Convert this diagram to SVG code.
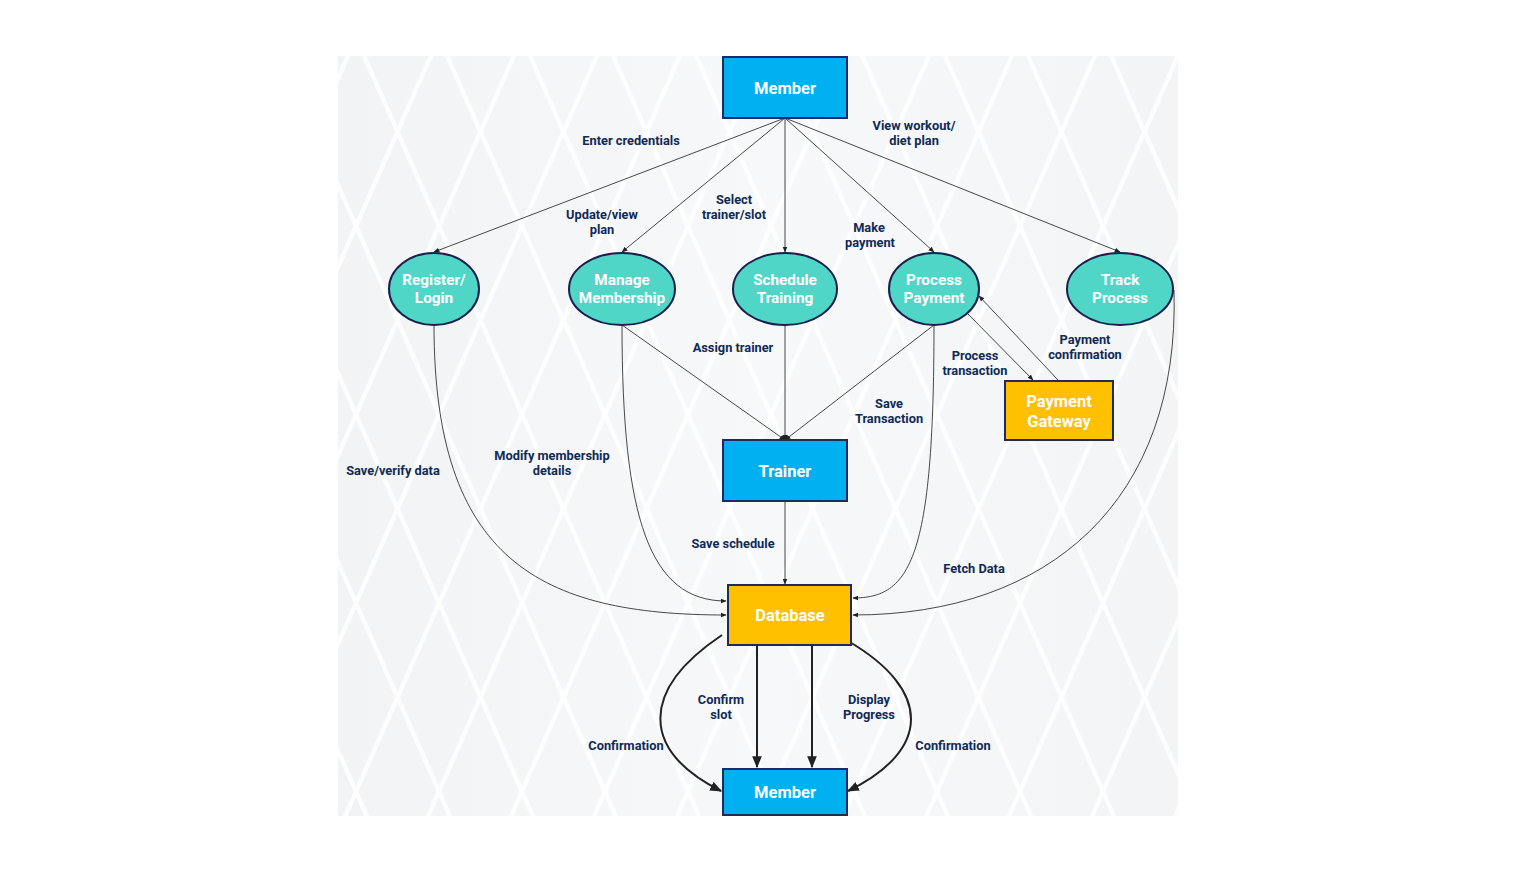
<svg xmlns="http://www.w3.org/2000/svg" width="1516" height="872" viewBox="0 0 1516 872">
<defs>
<pattern id="lat" x="356" y="226" width="83" height="188.5" patternUnits="userSpaceOnUse">
<path d="M0,0 L41.5,94.25 L0,188.5 M83,0 L41.5,94.25 L83,188.5" fill="none" stroke="#ffffff" stroke-width="4.5" opacity="0.85"/>
</pattern>
<linearGradient id="bg" x1="0" y1="0" x2="1" y2="0">
<stop offset="0" stop-color="#f2f3f5"/>
<stop offset="0.5" stop-color="#f7f8f9"/>
<stop offset="1" stop-color="#f3f4f6"/>
</linearGradient>
<marker id="a" viewBox="0 0 10 10" refX="9" refY="5" markerWidth="6" markerHeight="6" markerUnits="userSpaceOnUse" orient="auto">
<path d="M0,1 L10,5 L0,9 z" fill="#222"/>
</marker>
<marker id="b" viewBox="0 0 10 10" refX="9" refY="5" markerWidth="12" markerHeight="12" markerUnits="userSpaceOnUse" orient="auto">
<path d="M0,1 L10,5 L0,9 z" fill="#222"/>
</marker>
</defs>
<style>
.rb{fill:#00b0f0;stroke:#1f2a5e;stroke-width:2}
.ry{fill:#ffc000;stroke:#1f2a5e;stroke-width:2}
.el{fill:#4fd6c6;stroke:#1a1f4e;stroke-width:2}
.nt{font-family:Roboto,"Liberation Sans",sans-serif;font-weight:bold;font-size:16.5px;fill:#ffffff;text-anchor:middle;dominant-baseline:central}
.et{font-family:Roboto,"Liberation Sans",sans-serif;font-weight:bold;font-size:15.3px;fill:#ffffff;text-anchor:middle;dominant-baseline:central}
.lb{font-family:Roboto,"Liberation Sans",sans-serif;font-weight:bold;font-size:12.8px;fill:#0f2a55;text-anchor:middle;dominant-baseline:central}
.c{fill:none;stroke:#333;stroke-width:0.9;marker-end:url(#a)}
.t{fill:none;stroke:#222;stroke-width:2;marker-end:url(#b)}
</style>
<rect x="0" y="0" width="1516" height="872" fill="#ffffff"/>
<rect x="338" y="56" width="840" height="760" fill="url(#bg)"/>
<rect x="338" y="56" width="840" height="760" fill="url(#lat)"/>

<g id="connectors">
<path class="c" d="M785,118 L434,252"/>
<path class="c" d="M785,118 L622,252"/>
<path class="c" d="M785,118 L785,252"/>
<path class="c" d="M785,118 L934,252"/>
<path class="c" d="M785,118 L1120,252"/>
<path class="c" d="M434,325 C434,560 540,615 726,615"/>
<path class="c" d="M622,325 C622,520 650,601 726,601"/>
<path class="c" d="M622,325 L785,440"/>
<path class="c" d="M785,325 L785,440"/>
<path class="c" d="M934,325 L785,440"/>
<path class="c" d="M968,314 L1033,380"/>
<path class="c" d="M1058,380 L979,296"/>
<path class="c" d="M934,325 C934,560 910,598 853,598"/>
<path class="c" d="M1174,290 C1180,500 1050,615 853,615"/>
<path class="c" d="M785,501 L785,584"/>
<path class="t" d="M722,635 C640,690 640,750 721,791"/>
<path class="t" d="M757,641 L757,767"/>
<path class="t" d="M812,641 L812,767"/>
<path class="t" d="M848,641 C932,690 932,750 848,791"/>
<circle cx="785" cy="438" r="3" fill="#222"/>
</g>

<g id="labels">
<text class="lb" x="631" y="140">Enter credentials</text>
<text class="lb" x="602" y="214">Update/view</text>
<text class="lb" x="602" y="229">plan</text>
<text class="lb" x="734" y="199">Select</text>
<text class="lb" x="734" y="214">trainer/slot</text>
<text class="lb" x="869" y="227">Make</text>
<text class="lb" x="870" y="242">payment</text>
<text class="lb" x="914" y="125">View workout/</text>
<text class="lb" x="914" y="140">diet plan</text>
<text class="lb" x="733" y="347">Assign trainer</text>
<text class="lb" x="975" y="355">Process</text>
<text class="lb" x="975" y="370">transaction</text>
<text class="lb" x="1085" y="339">Payment</text>
<text class="lb" x="1085" y="354">confirmation</text>
<text class="lb" x="889" y="403">Save</text>
<text class="lb" x="889" y="418">Transaction</text>
<text class="lb" x="393" y="470">Save/verify data</text>
<text class="lb" x="552" y="455">Modify membership</text>
<text class="lb" x="552" y="470">details</text>
<text class="lb" x="733" y="543">Save schedule</text>
<text class="lb" x="974" y="568">Fetch Data</text>
<text class="lb" x="721" y="699">Confirm</text>
<text class="lb" x="721" y="714">slot</text>
<text class="lb" x="869" y="699">Display</text>
<text class="lb" x="869" y="714">Progress</text>
<text class="lb" x="626" y="745">Confirmation</text>
<text class="lb" x="953" y="745">Confirmation</text>
</g>

<g id="member-top"><rect class="rb" x="723" y="57" width="124" height="61"/><text class="nt" x="785" y="88">Member</text></g>
<g id="register-login"><ellipse class="el" cx="434" cy="289" rx="45" ry="36"/><text class="et" x="434" y="280">Register/</text><text class="et" x="434" y="298">Login</text></g>
<g id="manage-membership"><ellipse class="el" cx="622" cy="289" rx="53" ry="36"/><text class="et" x="622" y="280">Manage</text><text class="et" x="622" y="298">Membership</text></g>
<g id="schedule-training"><ellipse class="el" cx="785" cy="289" rx="52" ry="36"/><text class="et" x="785" y="280">Schedule</text><text class="et" x="785" y="298">Training</text></g>
<g id="process-payment"><ellipse class="el" cx="934" cy="289" rx="45" ry="36"/><text class="et" x="934" y="280">Process</text><text class="et" x="934" y="298">Payment</text></g>
<g id="track-process"><ellipse class="el" cx="1120" cy="289" rx="53" ry="36"/><text class="et" x="1120" y="280">Track</text><text class="et" x="1120" y="298">Process</text></g>
<g id="payment-gateway"><rect class="ry" x="1005" y="381" width="108" height="59"/><text class="nt" x="1059" y="401">Payment</text><text class="nt" x="1059" y="421">Gateway</text></g>
<g id="trainer"><rect class="rb" x="723" y="440" width="124" height="61"/><text class="nt" x="785" y="471">Trainer</text></g>
<g id="database"><rect class="ry" x="728" y="585" width="123" height="60"/><text class="nt" x="790" y="615">Database</text></g>
<g id="member-bottom"><rect class="rb" x="723" y="769" width="124" height="46"/><text class="nt" x="785" y="792">Member</text></g>
</svg>
